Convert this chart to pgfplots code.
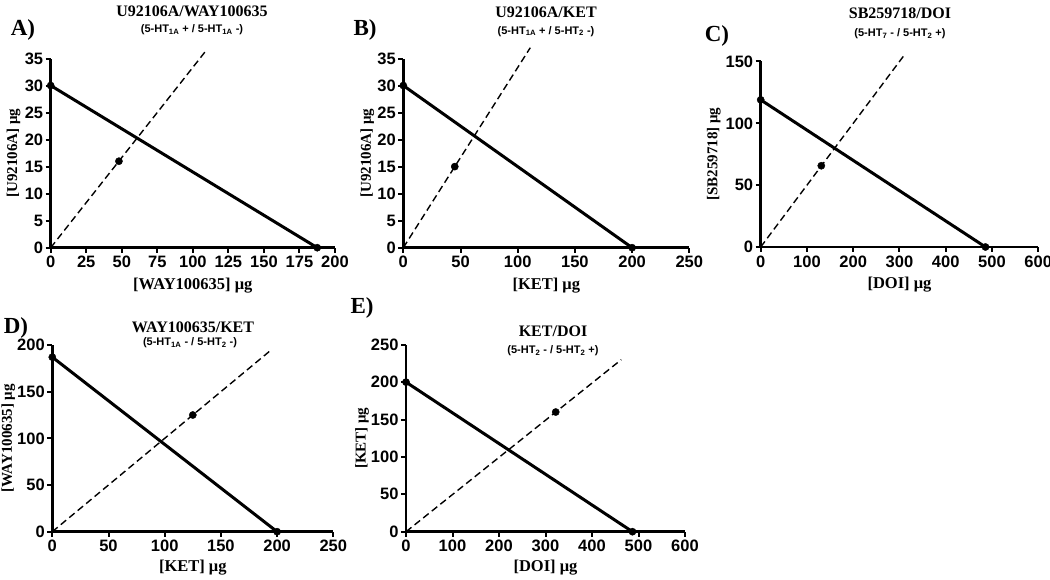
\documentclass[border=0pt]{standalone}
\usepackage{fontspec}
\setmainfont{Liberation Serif}
\newfontfamily\arial{Liberation Sans}
\usepackage{pgfplots}
\pgfplotsset{compat=1.18}
\pgfplotsset{
  gp/.style={
    scale only axis,
    anchor=south west,
    axis x line*=bottom, axis y line*=left,
    xmin=0, ymin=0,
    axis line style={line width=2.6pt},
    major tick style={line width=2pt, black},
    tick align=outside,
    major tick length=5pt,
    tick label style={font=\arial\bfseries\fontsize{16.5}{18}\selectfont},
    y tick label style={xshift=1pt},
    /pgf/number format/assume math mode=true,
    x label style={font=\bfseries\fontsize{16.5}{18}\selectfont, at={(axis description cs:0.5,0)}, anchor=center},
    clip=false,
  },
  yl/.style={y label style={font=\bfseries\fontsize{15}{17}\selectfont, at={([xshift=-#1]axis description cs:0,0.5)}, anchor=center}},
  solidl/.style={black, line width=3pt, mark=*, mark size=3.6pt, mark options={solid, line width=0.4pt}},
  dashl/.style={black, line width=1.4pt, dash pattern=on 7pt off 4pt},
  pt/.style={black, only marks, mark=*, mark size=3.6pt},
}
\begin{document}
\begin{tikzpicture}[x=1pt,y=1pt]
\useasboundingbox (0,0) rectangle (1050,579);
% A
\begin{axis}[gp, at={(50.7pt,331.3pt)}, width=284.3pt, height=189.2pt,
  xmax=200, ymax=35, xtick={0,25,...,200}, ytick={0,5,...,35},
  x label style={yshift=-38pt}, yl=37pt,
  xlabel={{[WAY100635]} μg}, ylabel={{[U92106A]} μg}]
\addplot[solidl] coordinates {(0,30) (187.5,0)};
\addplot[dashl] coordinates {(0,0) (110,36.7)};
\addplot[pt] coordinates {(48,16)};
\end{axis}
% B
\begin{axis}[gp, at={(403.3pt,331.3pt)}, width=286pt, height=189.2pt,
  xmax=250, ymax=35, xtick={0,50,...,250}, ytick={0,5,...,35},
  x label style={yshift=-38pt}, yl=36pt,
  xlabel={{[KET]} μg}, ylabel={{[U92106A]} μg}]
\addplot[solidl] coordinates {(0,30) (200,0)};
\addplot[dashl] coordinates {(0,0) (111,37)};
\addplot[pt] coordinates {(45,15)};
\end{axis}
% C
\begin{axis}[gp, at={(760.7pt,332pt)}, width=277.5pt, height=185.5pt,
  xmax=600, ymax=150, xtick={0,100,...,600}, ytick={0,50,...,150},
  x label style={yshift=-38pt}, yl=47pt,
  xlabel={{[DOI]} μg}, ylabel={{[SB259718]} μg}]
\addplot[solidl] coordinates {(0,119) (486,0)};
\addplot[dashl] coordinates {(0,0) (310,155)};
\addplot[pt] coordinates {(131,65.7)};
\end{axis}
% D
\begin{axis}[gp, at={(52.3pt,47.3pt)}, width=281pt, height=186.7pt,
  xmax=250, ymax=200, xtick={0,50,...,250}, ytick={0,50,...,200},
  x label style={yshift=-36pt}, yl=44pt,
  xlabel={{[KET]} μg}, ylabel={{[WAY100635]} μg}]
\addplot[solidl] coordinates {(0,187) (200,0)};
\addplot[dashl] coordinates {(0,0) (195,195)};
\addplot[pt] coordinates {(125,125)};
\end{axis}
% E
\begin{axis}[gp, at={(406pt,47.3pt)}, width=279pt, height=187pt,
  xmax=600, ymax=250, xtick={0,100,...,600}, ytick={0,50,...,250},
  x label style={yshift=-36pt}, yl=44pt,
  xlabel={{[DOI]} μg}, ylabel={{[KET]} μg}]
\addplot[solidl] coordinates {(0,200) (487,0)};
\addplot[dashl] coordinates {(0,0) (463,230)};
\addplot[pt] coordinates {(322,160)};
\end{axis}
% titles
\tikzset{ttl/.style={font=\bfseries\fontsize{16}{18}\selectfont, inner sep=0pt},
         sub/.style={font=\arial\bfseries\fontsize{11}{12}\selectfont, inner sep=0pt},
         let/.style={font=\bfseries\fontsize{23}{26}\selectfont, inner sep=0pt}}
\node[ttl] at (192,568) {U92106A/WAY100635};
\node[sub] at (192,549) {(5-HT\textsubscript{1A} + / 5-HT\textsubscript{1A} -)};
\node[let] at (23,549) {A)};
\node[ttl] at (546,566.5) {U92106A/KET};
\node[sub] at (546,547.5) {(5-HT\textsubscript{1A} + / 5-HT\textsubscript{2} -)};
\node[let] at (365,549) {B)};
\node[ttl] at (900,566) {SB259718/DOI};
\node[sub] at (900,545) {(5-HT\textsubscript{7} - / 5-HT\textsubscript{2} +)};
\node[let] at (717,543) {C)};
\node[ttl] at (193,252) {WAY100635/KET};
\node[sub] at (190,236) {(5-HT\textsubscript{1A} - / 5-HT\textsubscript{2} -)};
\node[let] at (16,251) {D)};
\node[ttl] at (553,248) {KET/DOI};
\node[sub] at (553,228) {(5-HT\textsubscript{2} - / 5-HT\textsubscript{2} +)};
\node[let] at (362,271) {E)};
\end{tikzpicture}
\end{document}
